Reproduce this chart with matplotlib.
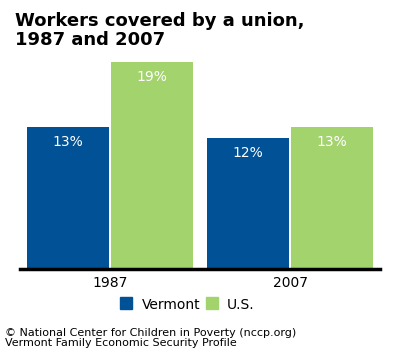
import numpy as np
import matplotlib.pyplot as plt
from matplotlib.patches import Rectangle

# 数据
years = ["1987", "2007"]
vermont = [13, 12]
us = [19, 13]
series_names = ["Vermont", "U.S."]
colors = ["#005195", "#a3d36d"]

fig = plt.figure(figsize=(4, 3.5), dpi=100)
ax = fig.add_axes([20 / 400, 1 - 269 / 350, 360 / 400, 218 / 350])

x = np.arange(len(years))
width = 0.456
offset = 0.2333

bars_vt = ax.bar(x - offset, vermont, width, color=colors[0])
bars_us = ax.bar(x + offset, us, width, color=colors[1])

# 柱内数值标签
for bars, vals in [(bars_vt, vermont), (bars_us, us)]:
    for b, v in zip(bars, vals):
        ax.text(b.get_x() + b.get_width() / 2, v - 1.35, f"{v}%",
                ha="center", va="center", color="white", fontsize=10)

ax.set_xlim(-0.5, 1.5)
ax.set_ylim(0, 20)
ax.set_yticks([])
ax.set_xticks(x)
ax.set_xticklabels(years, fontsize=10)
ax.tick_params(axis="x", length=0, pad=5)
for side in ["top", "right", "left"]:
    ax.spines[side].set_visible(False)
ax.spines["bottom"].set_linewidth(2.5)
ax.spines["bottom"].set_color("black")

# 标题（两行分开放）
for i, line in enumerate(["Workers covered by a union,", "1987 and 2007"]):
    fig.text(15 / 400, 1 - (26 + 19 * i) / 350, line,
             fontsize=13, fontweight="bold", ha="left", va="baseline")

# 图例
for cx, tx, c, name in [(120, 142, colors[0], series_names[0]),
                        (206, 227, colors[1], series_names[1])]:
    fig.patches.append(Rectangle((cx / 400, 1 - 309 / 350), 12 / 400, 12 / 350,
                                 transform=fig.transFigure, color=c))
    fig.text(tx / 400, 1 - 309 / 350, name, fontsize=10, ha="left", va="baseline")

# 来源
fig.text(5 / 400, 1 - 336 / 350, "© National Center for Children in Poverty (nccp.org)",
         fontsize=8, ha="left", va="baseline")
fig.text(5 / 400, 1 - 346 / 350, "Vermont Family Economic Security Profile",
         fontsize=8, ha="left", va="baseline")

fig.savefig("out.png", dpi=100)
